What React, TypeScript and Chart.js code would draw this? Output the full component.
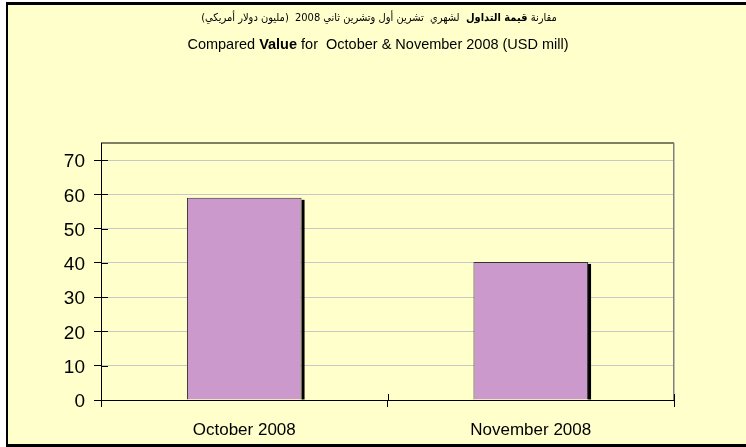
import React, { useEffect, useRef } from 'react';
import { Chart, registerables } from 'chart.js';

Chart.register(...registerables);

// ---- data ----
const categories = ['October 2008', 'November 2008'];
const values = [59, 40.3];
const yMin = 0;
const yMax = 75;
const yStep = 10;
const titleArabicParts = [
  { text: 'مقارنة ', bold: false },
  { text: 'قيمة التداول', bold: true },
  { text: '  لشهري  تشرين أول وتشرين ثاني 2008  (مليون دولار أمريكي)', bold: false },
];
const titleEnglishParts = [
  { text: 'Compared ', bold: false },
  { text: 'Value', bold: true },
  { text: ' for  October & November 2008 (USD mill)', bold: false },
];

const BG = '#FFFFCC';
const BAR = '#CC99CC';
const FONT = "'Liberation Sans', Arial, sans-serif";

const framePlugin = {
  id: 'frame',
  beforeDraw(chart: any) {
    const { ctx, width, height } = chart;
    ctx.save();
    ctx.fillStyle = '#ffffff';
    ctx.fillRect(0, 0, width, height);
    ctx.fillStyle = BG;
    ctx.fillRect(8, 5, width - 8, height - 8);
    ctx.restore();
  },
  beforeDatasetsDraw(chart: any) {
    const { ctx, chartArea } = chart;
    ctx.save();
    // plot border top & right
    ctx.fillStyle = '#000';
    ctx.fillRect(chartArea.left, chartArea.top - 0.5, chartArea.right - chartArea.left, 1);
    ctx.fillStyle = '#808080';
    ctx.fillRect(chartArea.right - 1, chartArea.top, 1.5, chartArea.bottom - chartArea.top);
    // bar shadows
    const meta = chart.getDatasetMeta(0);
    ctx.fillStyle = '#000';
    meta.data.forEach((bar: any) => {
      const r = bar.x + bar.width / 2;
      ctx.fillRect(r, bar.y + 2, 3, bar.base - bar.y - 2);
    });
    ctx.restore();
  },
  afterDraw(chart: any) {
    const { ctx, chartArea, width, height } = chart;
    const xs = chart.scales.x;
    const ys = chart.scales.y;
    ctx.save();
    ctx.strokeStyle = '#000';
    ctx.lineWidth = 1;
    ctx.beginPath();
    // inner halves of crossing tick marks
    ys.ticks.forEach((t: any) => {
      const py = Math.round(ys.getPixelForValue(t.value)) + 0.5;
      ctx.moveTo(chartArea.left, py);
      ctx.lineTo(chartArea.left + 7, py);
    });
    const n = categories.length;
    for (let i = 0; i <= n; i++) {
      const px = Math.round(xs.left + (i * xs.width) / n) + 0.5;
      ctx.moveTo(px, chartArea.bottom);
      ctx.lineTo(px, chartArea.bottom - 6);
    }
    ctx.stroke();
    // outer frame
    ctx.fillStyle = '#000';
    ctx.fillRect(6, 2, width - 6, 3);
    ctx.fillRect(6, 2, 2, height - 2);
    ctx.fillRect(6, height - 3, width - 6, 3);

    // title
    const cx = 379;
    ctx.fillStyle = '#000';
    ctx.textBaseline = 'middle';
    // Arabic line (RTL)
    const arFont = (b: boolean) => `${b ? 'bold ' : ''}11px 'DejaVu Sans Condensed', 'DejaVu Sans', sans-serif`;
    let total = 0;
    titleArabicParts.forEach((p) => {
      ctx.font = arFont(p.bold);
      ctx.direction = 'rtl';
      total += ctx.measureText(p.text).width;
    });
    let xr = cx + total / 2;
    titleArabicParts.forEach((p) => {
      ctx.font = arFont(p.bold);
      ctx.direction = 'rtl';
      ctx.textAlign = 'right';
      ctx.fillText(p.text, xr, 18);
      xr -= ctx.measureText(p.text).width;
    });
    // English line
    const enFont = (b: boolean) => `${b ? 'bold ' : ''}14.5px ${FONT}`;
    ctx.direction = 'ltr';
    total = 0;
    titleEnglishParts.forEach((p) => {
      ctx.font = enFont(p.bold);
      total += ctx.measureText(p.text).width;
    });
    let xl = 378 - total / 2;
    titleEnglishParts.forEach((p) => {
      ctx.font = enFont(p.bold);
      ctx.textAlign = 'left';
      ctx.fillText(p.text, xl, 45);
      xl += ctx.measureText(p.text).width;
    });
    ctx.restore();
  },
};

export default function App() {
  const ref = useRef<HTMLCanvasElement>(null);
  useEffect(() => {
    if (!ref.current) return;
    const chart = new Chart(ref.current, {
      type: 'bar',
      data: {
        labels: categories,
        datasets: [
          {
            data: values,
            backgroundColor: BAR,
            borderColor: '#333333',
            borderWidth: 1,
            borderSkipped: 'bottom',
            categoryPercentage: 1,
            barPercentage: 0.4,
          },
        ],
      },
      plugins: [framePlugin],
      options: {
        responsive: false,
        animation: false,
        layout: { padding: { left: 0, right: 72, top: 143, bottom: 0 } },
        plugins: {
          legend: { display: false },
          title: { display: false },
          tooltip: { enabled: false },
        },
        scales: {
          x: {
            afterFit: (s: any) => {
              s.height = 47;
            },
            grid: {
              offset: true,
              drawOnChartArea: false,
              tickLength: 7,
              tickColor: '#000',
            },
            border: { color: '#000', width: 1 },
            ticks: {
              color: '#000',
              padding: 13,
              font: { family: FONT, size: 17 },
              maxRotation: 0,
            },
          },
          y: {
            min: yMin,
            max: yMax,
            afterFit: (s: any) => {
              s.width = 101;
            },
            grid: {
              color: (c: any) => (c.tick && c.tick.value === 0 ? 'rgba(0,0,0,0)' : '#C8C8C8'),
              tickColor: '#000',
              tickLength: 7,
            },
            border: { color: '#000', width: 1 },
            ticks: {
              stepSize: yStep,
              includeBounds: false,
              color: '#000',
              padding: 9,
              labelOffset: 2,
              font: { family: FONT, size: 19 },
            },
          },
        },
      },
    });
    return () => chart.destroy();
  }, []);
  return (
    <div style={{ position: 'fixed', left: 0, top: 0, width: 746, height: 447 }}>
      <canvas ref={ref} width={746} height={447} />
    </div>
  );
}
